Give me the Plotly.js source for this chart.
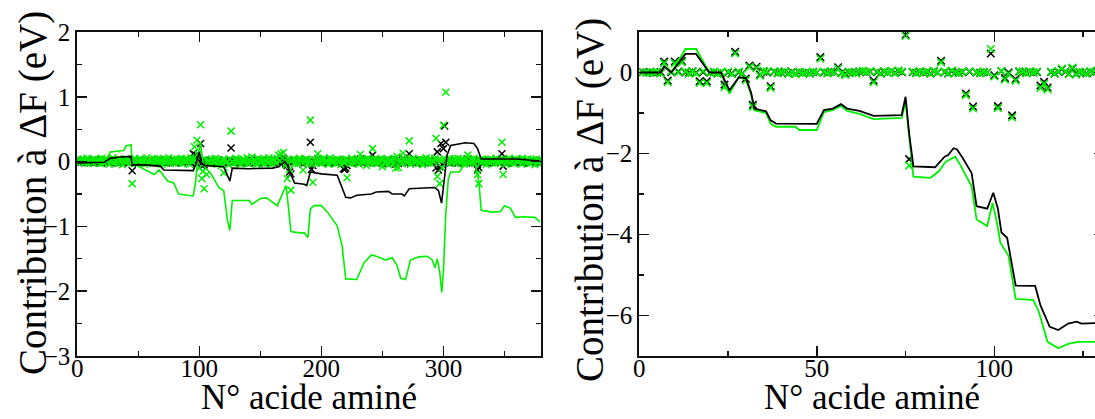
<!DOCTYPE html>
<html>
<head>
<meta charset="utf-8">
<script src="https://cdn.plot.ly/plotly-3.0.1.min.js"></script>
<style>
html,body{margin:0;padding:0;background:#fff;overflow:hidden;}
#chart{width:1110px;height:419px;}
</style>
</head>
<body>
<div id="chart"></div>
<script>
// ---------- DATA ----------
// Left panel: per-residue contributions (residues 1..380)
const leftGreenPts = [
0.02,-0.01,0.03,0.0,0.04,-0.02,0.01,0.05,-0.03,0.02,0.0,0.03,-0.02,0.04,0.01,-0.01,0.03,0.02,-0.03,0.05,
0.01,-0.02,0.04,0.0,0.02,-0.04,0.03,0.01,0.06,-0.02,0.02,0.0,-0.03,0.04,0.01,0.03,-0.05,0.02,0.0,0.04,
-0.01,0.03,0.02,-0.02,-0.34,0.01,0.05,-0.03,0.02,0.0,0.04,-0.02,0.03,0.01,-0.04,0.02,0.06,0.0,-0.02,0.03,
0.01,-0.03,0.04,0.02,-0.01,0.05,0.0,0.02,-0.04,0.03,0.01,-0.02,0.04,0.0,0.06,-0.03,0.02,0.01,-0.01,0.03,
0.0,0.04,-0.02,0.02,0.05,-0.03,0.01,0.03,-0.01,0.04,0.02,-0.04,0.06,0.0,0.05,0.23,0.02,0.33,0.12,-0.1,
0.57,-0.26,-0.15,-0.42,0.03,-0.2,0.02,0.0,-0.03,0.04,0.01,-0.02,0.05,0.02,-0.04,0.03,0.0,-0.06,0.02,-0.17,
0.03,-0.02,0.01,-0.05,0.04,0.47,0.0,-0.03,0.02,0.05,-0.01,0.03,0.0,-0.04,0.02,0.04,-0.02,0.01,0.06,-0.03,
0.02,0.0,0.07,-0.02,0.03,0.01,-0.04,0.05,0.02,-0.01,0.03,0.0,-0.03,0.04,0.02,-0.02,0.06,0.01,-0.04,0.03,
0.0,0.02,-0.02,0.05,0.1,0.01,0.12,-0.03,0.14,0.02,-0.05,-0.26,0.03,-0.12,-0.44,0.01,0.04,-0.02,0.03,0.0,
-0.03,0.05,0.02,-0.01,-0.13,0.03,0.0,0.04,-0.02,0.02,0.64,-0.04,-0.32,0.03,0.01,-0.02,0.12,0.0,0.04,-0.03,
0.02,0.05,-0.01,0.03,0.0,-0.04,0.06,0.02,-0.02,0.03,0.01,-0.03,0.04,0.0,0.02,-0.05,0.03,0.01,-0.02,0.04,
-0.25,0.02,0.0,-0.03,0.05,0.01,-0.02,0.03,0.0,0.04,-0.04,0.11,0.02,-0.01,0.03,0.0,-0.06,0.05,0.02,-0.03,
0.03,0.2,-0.02,0.04,0.01,-0.03,0.02,0.0,0.05,-0.08,0.03,-0.02,0.01,0.04,-0.05,0.02,0.0,0.03,-0.02,0.05,
-0.1,0.08,-0.09,0.02,0.0,-0.03,0.13,0.04,0.01,-0.02,0.03,0.32,-0.04,0.02,0.05,0.0,-0.02,0.03,0.01,-0.03,
0.04,0.02,-0.05,0.03,0.0,0.06,-0.02,0.01,0.04,-0.03,0.02,0.0,0.05,0.36,-0.23,0.03,-0.34,0.02,-0.1,0.56,
0.04,1.07,-0.02,0.03,0.05,-0.01,0.02,0.0,0.04,-0.03,0.02,0.05,0.01,-0.02,0.03,0.0,-0.04,0.02,0.04,0.1,
0.01,-0.02,0.03,0.0,0.05,-0.03,0.02,-0.2,-0.34,0.03,-0.01,0.04,0.0,0.02,-0.05,0.03,0.01,-0.02,0.04,0.0,
0.02,-0.03,0.05,0.01,-0.02,0.03,0.0,0.3,-0.2,0.02,-0.04,0.03,0.01,0.05,-0.02,0.02,0.0,-0.03,0.04,0.01,
-0.01,0.03,0.02,-0.04,0.05,0.0,0.02,-0.02,0.04,0.01,-0.03,0.03,0.0,0.02,-0.05,0.04,0.01,-0.02,0.03,-0.03
];
const leftBlackPts = [
0.0,0.01,-0.01,0.02,0.0,-0.02,0.01,0.0,0.02,-0.01,0.0,0.01,-0.02,0.0,0.02,0.01,-0.01,0.0,0.02,-0.02,
0.01,0.0,-0.01,0.02,0.0,0.01,-0.02,0.0,0.01,0.02,-0.01,0.0,0.01,-0.02,0.0,0.02,0.01,-0.01,0.0,0.01,
0.0,-0.02,0.01,0.0,-0.14,0.02,-0.01,0.0,0.01,-0.02,0.0,0.02,-0.01,0.0,0.01,0.02,-0.02,0.0,0.01,-0.01,
0.02,0.0,-0.01,0.01,0.0,-0.02,0.02,0.0,0.01,-0.01,0.0,0.02,-0.02,0.01,0.0,-0.01,0.02,0.0,0.01,-0.02,
0.0,0.01,-0.01,0.02,0.0,-0.02,0.01,0.0,0.02,-0.01,0.0,0.01,-0.02,0.0,0.12,0.02,0.1,-0.03,0.04,0.0,
0.28,-0.06,0.02,-0.05,0.0,0.01,-0.02,0.0,0.02,-0.01,0.0,0.01,-0.02,0.0,0.02,0.01,-0.01,0.0,0.02,-0.03,
0.01,0.0,-0.01,0.02,0.0,0.21,0.01,-0.02,0.0,0.01,-0.01,0.02,0.0,-0.02,0.01,0.0,0.02,-0.01,0.0,0.01,
-0.02,0.0,0.02,0.01,-0.01,0.0,0.02,-0.02,0.0,0.01,-0.01,0.02,0.0,-0.02,0.01,0.0,0.02,-0.01,0.0,0.01,
-0.02,0.0,0.02,0.01,0.03,-0.01,0.04,0.0,0.05,0.02,-0.03,-0.06,0.0,-0.16,-0.19,0.01,0.0,-0.02,0.01,0.0,
0.02,-0.01,0.0,0.01,-0.04,0.0,0.02,-0.01,0.0,0.01,0.3,-0.12,-0.06,0.0,0.02,-0.01,0.04,0.0,0.01,-0.02,
0.0,0.02,-0.01,0.0,0.01,-0.02,0.0,0.02,-0.01,0.0,0.01,-0.02,0.0,0.02,0.01,-0.01,0.0,-0.11,-0.12,-0.1,
-0.06,0.0,0.01,-0.02,0.0,0.02,-0.01,0.0,0.01,-0.02,0.0,0.04,0.01,0.0,-0.01,0.02,0.0,-0.02,0.01,0.0,
0.02,0.1,-0.01,0.0,0.01,-0.02,0.0,0.02,-0.01,-0.03,0.0,0.01,-0.02,0.0,0.02,0.01,-0.01,0.0,0.02,-0.01,
-0.04,0.03,-0.03,0.0,0.01,-0.02,0.05,0.0,0.02,-0.01,0.0,0.12,-0.02,0.0,0.01,0.02,-0.01,0.0,0.02,-0.01,
0.0,0.01,-0.02,0.0,0.02,0.01,-0.01,0.0,0.02,-0.02,0.0,0.01,0.02,-0.1,0.15,-0.13,-0.08,0.28,-0.04,0.2,
0.55,0.3,0.0,0.01,0.02,-0.02,0.0,0.01,-0.01,0.02,0.0,-0.02,0.01,0.0,0.02,-0.01,0.0,0.01,-0.02,0.04,
0.0,0.02,-0.01,0.0,0.01,-0.02,0.0,-0.13,-0.09,0.01,0.0,0.02,-0.01,0.0,0.01,-0.02,0.0,0.02,-0.01,0.0,
0.01,-0.02,0.0,0.02,-0.01,0.0,0.02,0.12,-0.07,0.0,0.01,-0.02,0.0,0.02,-0.01,0.0,0.01,-0.02,0.0,0.02,
-0.01,0.0,0.02,0.01,-0.02,0.0,0.01,-0.01,0.02,0.0,-0.02,0.01,0.0,0.02,-0.01,0.0,0.01,-0.02,0.0,0.01
];
// Left panel cumulative curves (vertices)
const leftBlackLineX = [0,10,22,27,35,44,45,55,68,71,95,97,100,102,104,120,125,127,140,160,165,170,172,175,178,186,188,191,200,213,217,220,224,229,241,245,255,258,266,268,272,280,293,296,298.5,300,303,306,311,318,325,328,331,340,350,360,379];
const leftBlackLineY = [-0.02,-0.02,-0.01,0.05,0.07,0.08,-0.05,-0.05,-0.07,-0.13,-0.14,-0.05,0.15,-0.03,-0.06,-0.08,-0.3,-0.1,-0.11,-0.1,-0.08,0.0,-0.05,-0.2,-0.33,-0.35,-0.37,-0.16,-0.19,-0.21,-0.4,-0.55,-0.56,-0.52,-0.5,-0.47,-0.46,-0.5,-0.5,-0.53,-0.42,-0.41,-0.4,-0.45,-0.64,-0.4,0.1,0.25,0.27,0.29,0.28,0.2,0.04,0.04,0.05,0.04,0.01];
const leftGreenLineX = [0,24,27,38,40,44,45,50,55,63,67,70,74,79,83,95,97,99,101,103,105,110,116,120,123,125,127,135,141,143,146,150,155,160,164,168,171,173,175,182,186,189,191,194,200,205,213,217,220,229,235,241,245,253,258,262,265,269,273,280,287,291,293,295,297,298.7,300,302,304,306,313,316,320,326,329,331,340,347,350,355,359,365,375,379];
const leftGreenLineY = [0.02,0.02,0.15,0.17,0.24,0.26,-0.02,-0.07,-0.12,-0.2,-0.13,-0.2,-0.3,-0.33,-0.5,-0.53,-0.3,0.1,0.3,-0.05,-0.1,-0.2,-0.4,-0.45,-0.9,-1.06,-0.6,-0.6,-0.6,-0.66,-0.62,-0.57,-0.56,-0.62,-0.68,-0.5,-0.37,-0.7,-1.08,-1.1,-1.1,-1.17,-0.73,-0.68,-0.68,-0.78,-0.99,-1.3,-1.81,-1.82,-1.56,-1.44,-1.46,-1.52,-1.48,-1.6,-1.8,-1.82,-1.52,-1.47,-1.46,-1.52,-1.64,-1.5,-1.7,-2.02,-1.7,-0.8,-0.27,-0.16,-0.16,-0.08,-0.03,-0.02,-0.3,-0.75,-0.78,-0.77,-0.68,-0.72,-0.86,-0.85,-0.86,-0.93];

// Right panel: per-residue contributions (residues 1..130)
const rightGreenPts = [
0.0,0.01,-0.01,0.0,0.02,-0.02,0.23,-0.24,0.03,0.23,
0.0,0.25,0.02,-0.03,0.02,-0.02,-0.26,0.03,-0.26,-0.01,
0.02,-0.03,0.01,-0.36,0.02,-0.04,0.47,0.02,-0.03,-0.19,
0.14,-0.85,0.11,-0.08,0.04,0.02,-0.38,0.03,-0.02,0.01,
0.03,-0.03,0.0,-0.04,0.02,-0.02,0.01,-0.03,0.02,0.0,
0.34,0.02,-0.02,0.03,0.0,0.1,-0.02,-0.06,0.02,0.0,
-0.02,0.03,0.04,0.01,0.03,-0.24,0.02,-0.03,0.03,0.0,
0.04,-0.02,0.05,0.02,0.9,-2.3,0.02,-0.02,0.03,0.0,
0.02,-0.03,0.04,0.01,0.25,0.02,-0.03,0.05,0.0,-0.02,
0.02,-0.56,0.03,-0.89,0.01,-0.02,0.02,0.0,0.58,-0.1,
-0.88,0.04,-0.18,-0.03,-1.11,-0.2,0.03,0.02,-0.02,0.03,
0.0,0.02,-0.38,-0.28,-0.42,0.02,-0.03,0.03,0.1,0.03,
-0.04,0.12,-0.05,0.02,0.0,-0.03,0.03,0.01,0.05,-0.02
];
const rightBlackPts = [
0.01,0.0,0.01,-0.01,0.0,0.01,0.27,-0.2,0.01,0.27,
0.02,0.28,0.0,-0.01,0.03,0.0,-0.22,0.01,-0.22,0.0,
0.01,-0.02,0.0,-0.3,0.0,-0.02,0.51,0.0,-0.02,-0.15,
0.17,-0.8,0.14,-0.05,0.02,0.0,-0.34,0.02,-0.01,0.0,
0.02,-0.02,0.01,-0.03,0.01,-0.01,0.0,-0.02,0.01,0.0,
0.38,0.01,-0.01,0.02,0.01,0.13,-0.01,-0.03,0.01,0.0,
-0.01,0.02,0.03,0.0,0.02,-0.2,0.01,-0.02,0.02,0.0,
0.03,-0.01,0.03,0.01,0.93,-2.14,0.01,-0.01,0.02,0.0,
0.01,-0.02,0.03,0.0,0.29,0.01,-0.02,0.03,0.0,-0.01,
0.01,-0.52,0.02,-0.84,0.0,-0.01,0.01,0.0,0.47,-0.07,
-0.83,0.03,-0.14,0.0,-1.06,-0.16,0.02,0.01,-0.01,0.02,
0.0,0.01,-0.32,-0.23,-0.37,0.01,-0.02,0.02,0.08,0.02,
-0.03,0.1,-0.04,0.01,0.0,-0.02,0.02,0.0,0.03,-0.01
];
const rightBlackLineX = [0,6,7,9,13,16,19.7,23,25.4,28,30,31.5,32.4,35.7,37,38.5,50,51,52,54.5,56.8,58.5,62,66,73.9,75,76,77.2,83.3,86,87,88.5,89.5,91,93.6,95,98,99.7,101,102,103.6,106,111.5,113,115.6,118,120.8,123.2,124.5,128,131];
const rightBlackLineY = [0,0,0.15,0.0,0.46,0.46,0.0,0.0,-0.44,-0.12,-0.14,-0.5,-0.89,-0.96,-1.18,-1.26,-1.27,-1.1,-0.93,-0.89,-0.78,-0.89,-0.95,-1.07,-1.05,-0.6,-1.5,-2.32,-2.34,-2.08,-2.04,-1.87,-1.9,-2.1,-2.48,-3.3,-3.36,-2.97,-3.36,-3.95,-4.08,-5.26,-5.27,-5.75,-6.28,-6.36,-6.2,-6.15,-6.2,-6.19,-6.19];
const rightGreenLineX = [0,6,7,9,13,16,19.7,23,25.4,28,30,31.5,32.4,35.7,37,38.5,44,45,50,51,52,54.5,56.8,58.5,62,66,73.9,75,76,77.2,82,84.4,86.3,89,90.5,93.6,95,98,99.5,100.5,101.7,104,106,111,112.5,115,118,120.8,123.5,131];
const rightGreenLineY = [0,0,0.15,-0.02,0.58,0.58,0.0,-0.02,-0.52,-0.12,-0.17,-0.55,-0.93,-1.0,-1.27,-1.34,-1.34,-1.42,-1.42,-1.2,-0.98,-0.93,-0.82,-0.95,-1.02,-1.15,-1.12,-0.73,-1.6,-2.57,-2.6,-2.44,-2.2,-2.08,-2.3,-2.81,-3.63,-3.79,-3.22,-3.6,-4.2,-4.53,-5.59,-5.62,-5.9,-6.65,-6.81,-6.7,-6.65,-6.65];

// Axis text
const xTitle = 'N° acide aminé';
const yTitle = 'Contribution à ΔF (eV)';

// ---------- PLOT ----------
const leftRes = leftGreenPts.map((_, i) => i + 1);
const rightRes = rightGreenPts.map((_, i) => i + 1);

const FONT = 'Liberation Serif';
const GREEN = '#00f000';
const W = 1110, H = 419;
const fx = p => p / W;
const fy = p => 1 - p / H;

function mk(color, size, w) {
  return {symbol: 'x-thin-open', size: size, color: color, line: {color: color, width: w}};
}

const traces = [
  {x: leftRes, y: leftBlackPts, mode: 'markers', marker: mk('#000', 7, 1.5), xaxis: 'x', yaxis: 'y'},
  {x: leftRes, y: leftGreenPts, mode: 'markers', marker: mk(GREEN, 7, 1.5), xaxis: 'x', yaxis: 'y'},
  {x: leftGreenLineX, y: leftGreenLineY, mode: 'lines', line: {color: GREEN, width: 1.6}, xaxis: 'x', yaxis: 'y'},
  {x: leftBlackLineX, y: leftBlackLineY, mode: 'lines', line: {color: '#000', width: 1.6}, xaxis: 'x', yaxis: 'y'},
  {x: rightRes, y: rightBlackPts, mode: 'markers', marker: mk('#000', 7.5, 1.6), xaxis: 'x2', yaxis: 'y2'},
  {x: rightRes, y: rightGreenPts, mode: 'markers', marker: mk(GREEN, 7.5, 1.6), xaxis: 'x2', yaxis: 'y2'},
  {x: rightGreenLineX, y: rightGreenLineY, mode: 'lines', line: {color: GREEN, width: 1.8}, xaxis: 'x2', yaxis: 'y2'},
  {x: rightBlackLineX, y: rightBlackLineY, mode: 'lines', line: {color: '#000', width: 1.8}, xaxis: 'x2', yaxis: 'y2'}
];

function axisBase(extra) {
  return Object.assign({
    showline: true, linecolor: '#111', linewidth: 2, mirror: 'ticks',
    ticks: 'inside', ticklen: 10, tickwidth: 1.6, tickcolor: '#111',
    showgrid: false, zeroline: false,
    tickfont: {family: FONT, size: 25, color: '#000'},
    automargin: false
  }, extra);
}
const minorTicks = d => ({dtick: d, ticks: 'inside', ticklen: 5, tickwidth: 1.4, tickcolor: '#111', showgrid: false});

const titleFontX = {family: FONT, size: 35, color: '#000'};
const titleFontY = {family: FONT, size: 39, color: '#000'};

const layout = {
  width: W, height: H,
  margin: {l: 0, r: 0, t: 0, b: 0},
  paper_bgcolor: '#fff', plot_bgcolor: '#fff',
  showlegend: false,
  font: {family: FONT, color: '#000'},
  xaxis: axisBase({
    domain: [fx(77.3), fx(541)], range: [0, 380], anchor: 'y',
    tick0: 0, dtick: 100, minor: minorTicks(50), ticklabelstandoff: -11
  }),
  yaxis: axisBase({
    domain: [fy(356), fy(32)], range: [-3, 2], anchor: 'x',
    tick0: 0, dtick: 1, minor: minorTicks(0.5)
  }),
  xaxis2: axisBase({
    domain: [fx(639.3), fx(1104.4)], range: [0, 131], anchor: 'y2',
    tick0: 0, dtick: 50, minor: minorTicks(25), ticklabelstandoff: -11
  }),
  yaxis2: axisBase({
    domain: [fy(356), fy(32)], range: [-7, 1], anchor: 'x2',
    tick0: 0, dtick: 2, minor: minorTicks(1)
  }),
  annotations: [
    {text: xTitle, xref: 'paper', yref: 'paper', x: fx(309), y: 0, xanchor: 'center', yanchor: 'bottom', showarrow: false, font: titleFontX},
    {text: xTitle, xref: 'paper', yref: 'paper', x: fx(872), y: 0, xanchor: 'center', yanchor: 'bottom', showarrow: false, font: titleFontX},
    {text: yTitle, xref: 'paper', yref: 'paper', x: fx(33), y: fy(193), xanchor: 'center', yanchor: 'middle', textangle: -90, showarrow: false, font: titleFontY},
    {text: yTitle, xref: 'paper', yref: 'paper', x: fx(590), y: fy(200), xanchor: 'center', yanchor: 'middle', textangle: -90, showarrow: false, font: titleFontY}
  ]
};

Plotly.newPlot('chart', traces, layout, {staticPlot: true, displayModeBar: false});
</script>
</body>
</html>
